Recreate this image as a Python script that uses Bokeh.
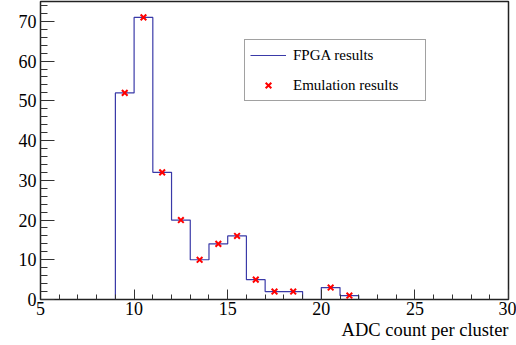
from bokeh.plotting import figure
from bokeh.models import FixedTicker, Legend, LegendItem, Range1d, Title
from bokeh.embed import file_html
from bokeh.resources import INLINE

# Histogram bin edges (width 1) and FPGA counts
bin_edges = list(range(5, 31))
fpga_counts = [0, 0, 0, 0, 52, 71, 32, 20, 10, 14, 16, 5, 2, 2, 0, 3, 1,
               0, 0, 0, 0, 0, 0, 0, 0]
# Emulation results (bin centres and counts)
emu_x = [9.5, 10.5, 11.5, 12.5, 13.5, 14.5, 15.5, 16.5, 17.5, 18.5, 20.5, 21.5]
emu_y = [52, 71, 32, 20, 10, 14, 16, 5, 2, 2, 3, 1]

x_major = [5, 10, 15, 20, 25, 30]
x_minor = list(range(5, 31))
y_major = [0, 10, 20, 30, 40, 50, 60, 70]
y_minor = list(range(0, 76, 2))

FONT = "Liberation Serif"

p = figure(width=516, height=345, output_backend="svg", toolbar_location=None,
           x_range=Range1d(5, 30), y_range=Range1d(0, 75),
           min_border_left=40, min_border_right=8, min_border_top=1,
           min_border_bottom=46)
p.background_fill_color = "white"
p.border_fill_color = "white"
p.outline_line_color = "#222222"
p.outline_line_width = 1.5
p.grid.visible = False

step_y = fpga_counts + [fpga_counts[-1]]
r_hist = p.step(x=bin_edges, y=step_y, mode="after", line_color="#3a3aa8",
                line_width=1.2)
r_emu = p.scatter(x=emu_x, y=emu_y, marker="x", size=8, line_color="#ff0000",
                  line_width=2)

for ax in (p.xaxis[0], p.yaxis[0]):
    ax.major_tick_out = 0
    ax.minor_tick_out = 0
    ax.axis_line_color = "#222222"
    ax.major_tick_line_color = "#333333"
    ax.minor_tick_line_color = "#333333"
    ax.major_label_text_font = FONT
    ax.major_label_text_font_size = "18px"
    ax.major_label_text_color = "black"

p.xaxis[0].ticker = FixedTicker(ticks=x_major, minor_ticks=x_minor)
p.xaxis[0].major_tick_in = 10
p.xaxis[0].minor_tick_in = 5
p.xaxis[0].major_label_standoff = 2

p.yaxis[0].ticker = FixedTicker(ticks=y_major, minor_ticks=y_minor)
p.yaxis[0].major_tick_in = 14
p.yaxis[0].minor_tick_in = 7
p.yaxis[0].major_label_standoff = 4

xtitle = Title(text="ADC count per cluster", align="right",
               text_font=FONT, text_font_size="18.5px",
               text_font_style="normal", text_color="black",
               offset=0, standoff=0)
p.add_layout(xtitle, "below")

legend = Legend(items=[LegendItem(label="FPGA results", renderers=[r_hist]),
                       LegendItem(label="Emulation results", renderers=[r_emu])],
                location=(204, 198))
legend.label_text_font = FONT
legend.label_text_font_size = "15px"
legend.label_text_color = "black"
legend.border_line_color = "#444444"
legend.border_line_width = 1
legend.padding = 5
legend.spacing = 10
legend.glyph_width = 36
legend.glyph_height = 20
legend.label_height = 20
legend.label_width = 127
legend.label_standoff = 7
legend.margin = 0
legend.background_fill_alpha = 1
p.add_layout(legend)

open("out.html", "w").write(file_html(p, INLINE))
